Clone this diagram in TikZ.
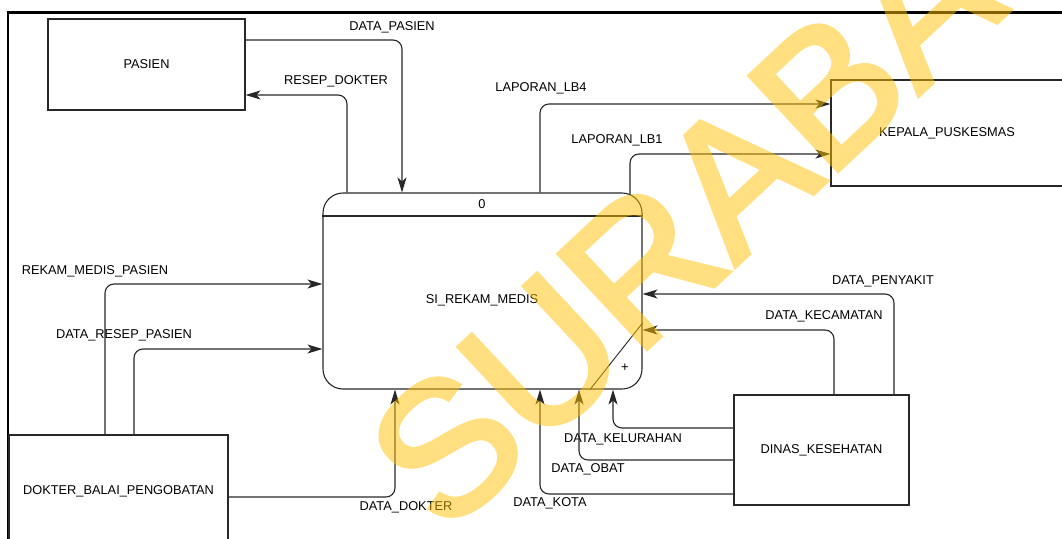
\documentclass[tikz,border=0pt]{standalone}
\usepackage{fontspec}
\setmainfont{Liberation Sans}
\newfontfamily\wmfont[FakeBold=2.5]{Liberation Sans}
\usetikzlibrary{arrows.meta}
\definecolor{wm}{RGB}{255,192,0}
\definecolor{ln}{RGB}{40,40,40}
\begin{document}
\begin{tikzpicture}[x=1pt,y=-1pt,
  box/.style={draw=ln, line width=1.1pt, inner sep=0pt,
    font=\fontsize{12.8}{14}\selectfont},
  lbl/.style={inner sep=0pt, font=\fontsize{12.8}{14}\selectfont},
  flow/.style={draw=ln, line width=1.1pt, rounded corners=9pt,
    -{Stealth[length=15pt,width=9pt,inset=4pt]}},
  plain/.style={draw=ln, line width=1.1pt}]
\useasboundingbox (0,0) rectangle (1062,538);
\clip (0,0) rectangle (1062,538);
\fill[white] (0,0) rectangle (1062,538);
% frame
\draw[black, line width=2.2pt] (8,545) -- (8,12.5) -- (1070,12.5);
% entities
\node[box, minimum width=197pt, minimum height=91pt] (pasien) at (146.5,64.5) {PASIEN};
\node[box, minimum width=232pt, minimum height=106pt] (kepala) at (947,133) {KEPALA\_PUSKESMAS};
\node[box, minimum width=219pt, minimum height=112pt] (dokter) at (118.5,491) {DOKTER\_BALAI\_PENGOBATAN};
\node[box, minimum width=175pt, minimum height=110pt] (dinas) at (821.5,450) {DINAS\_KESEHATAN};
% process
\node[draw=ln, line width=1.1pt, rounded corners=20pt, minimum width=319pt, minimum height=196pt, inner sep=0pt] (proc) at (482.5,291) {};
\draw[plain] (proc.west |- 0,216) -- (proc.east |- 0,216);
\node[lbl] (pnum) at (482,204) {0};
\node[lbl] (pname) at (482,300) {SI\_REKAM\_MEDIS};
\draw[plain, line width=0.9pt] (proc.east |- 0,323) -- (proc.south -| 590,0);
\node[lbl, font=\fontsize{13}{14}\selectfont] (plus) at (625,368) {+};
% flows
\draw[flow] (pasien.east |- 0,40) -| (proc.north -| 402,0);
\node[lbl] (l1) at (392,27) {DATA\_PASIEN};
\draw[flow] (proc.north -| 347,0) |- (pasien.east |- 0,95);
\node[lbl] (l2) at (336,81) {RESEP\_DOKTER};
\draw[flow] (proc.north -| 540,0) |- (kepala.west |- 0,104);
\node[lbl] (l3) at (541,88) {LAPORAN\_LB4};
\draw[flow] (630,194.5) |- (kepala.west |- 0,154);
\node[lbl] (l4) at (617,140) {LAPORAN\_LB1};
\draw[flow] (dokter.north -| 105,0) |- (proc.west |- 0,284);
\node[lbl] (l5) at (95,271) {REKAM\_MEDIS\_PASIEN};
\draw[flow] (dokter.north -| 134,0) |- (proc.west |- 0,349);
\node[lbl] (l6) at (124,335) {DATA\_RESEP\_PASIEN};
\draw[flow] (dokter.east |- 0,497) -| (proc.south -| 395,0);
\node[lbl] (l7) at (406,507) {DATA\_DOKTER};
\draw[flow] (dinas.north -| 894,0) |- (proc.east |- 0,294);
\node[lbl] (l8) at (883,281) {DATA\_PENYAKIT};
\draw[flow] (dinas.north -| 834,0) |- (proc.east |- 0,330);
\node[lbl] (l9) at (824,316) {DATA\_KECAMATAN};
\draw[flow] (dinas.west |- 0,428) -| (proc.south -| 613,0);
\node[lbl] (l10) at (623,439) {DATA\_KELURAHAN};
\draw[flow] (dinas.west |- 0,460) -| (proc.south -| 579,0);
\node[lbl] (l11) at (588,469) {DATA\_OBAT};
\draw[flow] (dinas.west |- 0,494) -| (proc.south -| 540,0);
\node[lbl] (l12) at (550,503) {DATA\_KOTA};
% watermark
\begin{scope}[transparency group, opacity=0.5]
\node[inner sep=0pt, text=wm, rotate=43,
  font=\wmfont\fontsize{188}{188}\selectfont] (wmark) at (765,150) {SURABAYA};
\end{scope}
\end{tikzpicture}
\end{document}
